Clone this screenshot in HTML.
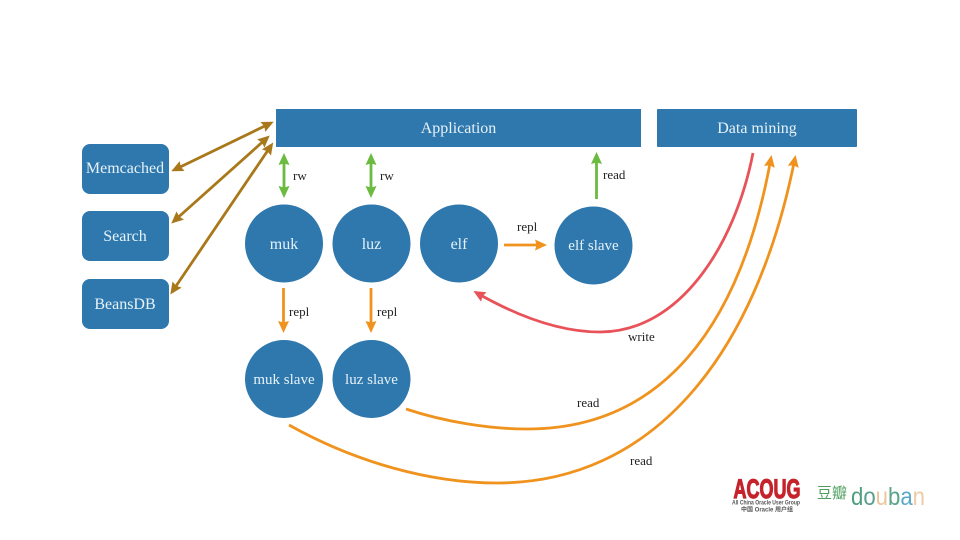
<!DOCTYPE html>
<html><head><meta charset="utf-8">
<style>
html,body{margin:0;padding:0;background:#fff}
body{width:960px;height:540px;overflow:hidden;position:relative}
svg{position:absolute;left:0;top:0;filter:blur(.35px)}
text{font-family:"Liberation Serif","Noto Serif CJK SC",serif}
.w{fill:#e6f2f8;font-size:16px;text-anchor:middle}
.s{font-size:15px}
.k{fill:#222;font-size:13px}
</style></head><body>
<svg width="960" height="540" viewBox="0 0 960 540" xmlns="http://www.w3.org/2000/svg">
<defs>
<marker id="br" markerUnits="userSpaceOnUse" markerWidth="14" markerHeight="14" refX="9" refY="7" orient="auto-start-reverse"><path d="M0 1.500L12 7L0 12.500L1.500 7Z" fill="#a9781a"/></marker>
<marker id="gr" markerUnits="userSpaceOnUse" markerWidth="14" markerHeight="14" refX="9" refY="7" orient="auto-start-reverse"><path d="M0 1.500L12 7L0 12.500L1.500 7Z" fill="#6cba3f"/></marker>
<marker id="or" markerUnits="userSpaceOnUse" markerWidth="14" markerHeight="14" refX="9" refY="7" orient="auto-start-reverse"><path d="M0 1.500L12 7L0 12.500L1.500 7Z" fill="#f0931e"/></marker>
<marker id="re" markerUnits="userSpaceOnUse" markerWidth="14" markerHeight="14" refX="9" refY="7" orient="auto-start-reverse"><path d="M0 1.500L12 7L0 12.500L1.500 7Z" fill="#e8535a"/></marker>
</defs>
<rect x="276" y="109" width="365" height="38" fill="#2e78ae"/>
<rect x="657" y="109" width="200" height="38" rx="1" fill="#2e78ae"/>
<rect x="82" y="144" width="87" height="50" rx="8" fill="#2e78ae"/>
<rect x="82" y="211" width="87" height="50" rx="8" fill="#2e78ae"/>
<rect x="82" y="279" width="87" height="50" rx="8" fill="#2e78ae"/>
<circle cx="284" cy="243.500" r="39" fill="#2e78ae"/>
<circle cx="371.500" cy="243.500" r="39" fill="#2e78ae"/>
<circle cx="459" cy="243.500" r="39" fill="#2e78ae"/>
<circle cx="593.500" cy="245.500" r="39" fill="#2e78ae"/>
<circle cx="284" cy="379" r="39" fill="#2e78ae"/>
<circle cx="371.500" cy="379" r="39" fill="#2e78ae"/>

<g fill="none" stroke-width="2.800">
<g stroke="#a9781a" marker-start="url(#br)" marker-end="url(#br)">
<line x1="174" y1="170" x2="271" y2="123"/>
<line x1="173.500" y1="221.500" x2="267.500" y2="137.500"/>
<line x1="172" y1="292" x2="271.500" y2="145"/>
</g>
<g stroke="#6cba3f" marker-start="url(#gr)" marker-end="url(#gr)">
<line x1="284" y1="156" x2="284" y2="195"/>
<line x1="371" y1="156" x2="371" y2="195"/>
</g>
<line x1="596.500" y1="199" x2="596.500" y2="155" stroke="#6cba3f" marker-end="url(#gr)"/>
<g stroke="#f0931e" marker-end="url(#or)">
<line x1="283.500" y1="288" x2="283.500" y2="330"/>
<line x1="371" y1="288" x2="371" y2="330"/>
<line x1="504" y1="245" x2="544" y2="245"/>
<path d="M406 409C445 422 490 429 527 429C660 429 740 330 771 158"/>
<path d="M289 425C355 462 430 483 497 483C650 483 755 360 795 158"/>
</g>
<path d="M753 153C735 245 680 332 600 332C555 332 510 312 476 292.500" stroke="#e8535a" marker-end="url(#re)"/>
</g>

<text class="w" x="458.500" y="133">Application</text>
<text class="w" x="757" y="133">Data mining</text>
<text class="w" x="125" y="173">Memcached</text>
<text class="w" x="125" y="241">Search</text>
<text class="w" x="125" y="309">BeansDB</text>
<text class="w" x="284" y="249">muk</text>
<text class="w" x="371.500" y="249">luz</text>
<text class="w" x="459" y="249">elf</text>
<text class="w s" x="593.500" y="250">elf slave</text>
<text class="w s" x="284" y="384">muk slave</text>
<text class="w s" x="371.500" y="384">luz slave</text>

<text class="k" x="293" y="180">rw</text>
<text class="k" x="380" y="180">rw</text>
<text class="k" x="603" y="179">read</text>
<text class="k" x="517" y="231">repl</text>
<text class="k" x="289" y="316">repl</text>
<text class="k" x="377" y="316">repl</text>
<text class="k" x="628" y="341">write</text>
<text class="k" x="577" y="407">read</text>
<text class="k" x="630" y="465">read</text>

<text x="767" y="498" text-anchor="middle" font-size="27" font-weight="700" fill="#c5232c" stroke="#c5232c" stroke-width="1.200" style="font-family:'Liberation Sans',sans-serif" textLength="67" lengthAdjust="spacingAndGlyphs">ACOUG</text>
<text x="766" y="504.500" text-anchor="middle" font-size="6.500" font-weight="700" fill="#555" style="font-family:'Liberation Sans',sans-serif" textLength="68" lengthAdjust="spacingAndGlyphs">All China Oracle User Group</text>
<text x="767" y="511.500" text-anchor="middle" font-size="6" font-weight="700" fill="#555" style="font-family:'Liberation Sans','Noto Sans CJK SC',sans-serif">中国 Oracle 用户组</text>
<text x="817" y="498" font-size="15" fill="#4f9e5f" style="font-family:'Liberation Sans','Noto Sans CJK SC',sans-serif">豆瓣</text>
<text x="851" y="505" font-size="25" style="font-family:'Liberation Sans',sans-serif" textLength="74" lengthAdjust="spacingAndGlyphs"><tspan fill="#4f9e7f">d</tspan><tspan fill="#5b9f90">o</tspan><tspan fill="#e8c89a">u</tspan><tspan fill="#5aa58a">b</tspan><tspan fill="#5aa9c9">a</tspan><tspan fill="#eccba5">n</tspan></text>
</svg>
</body></html>
